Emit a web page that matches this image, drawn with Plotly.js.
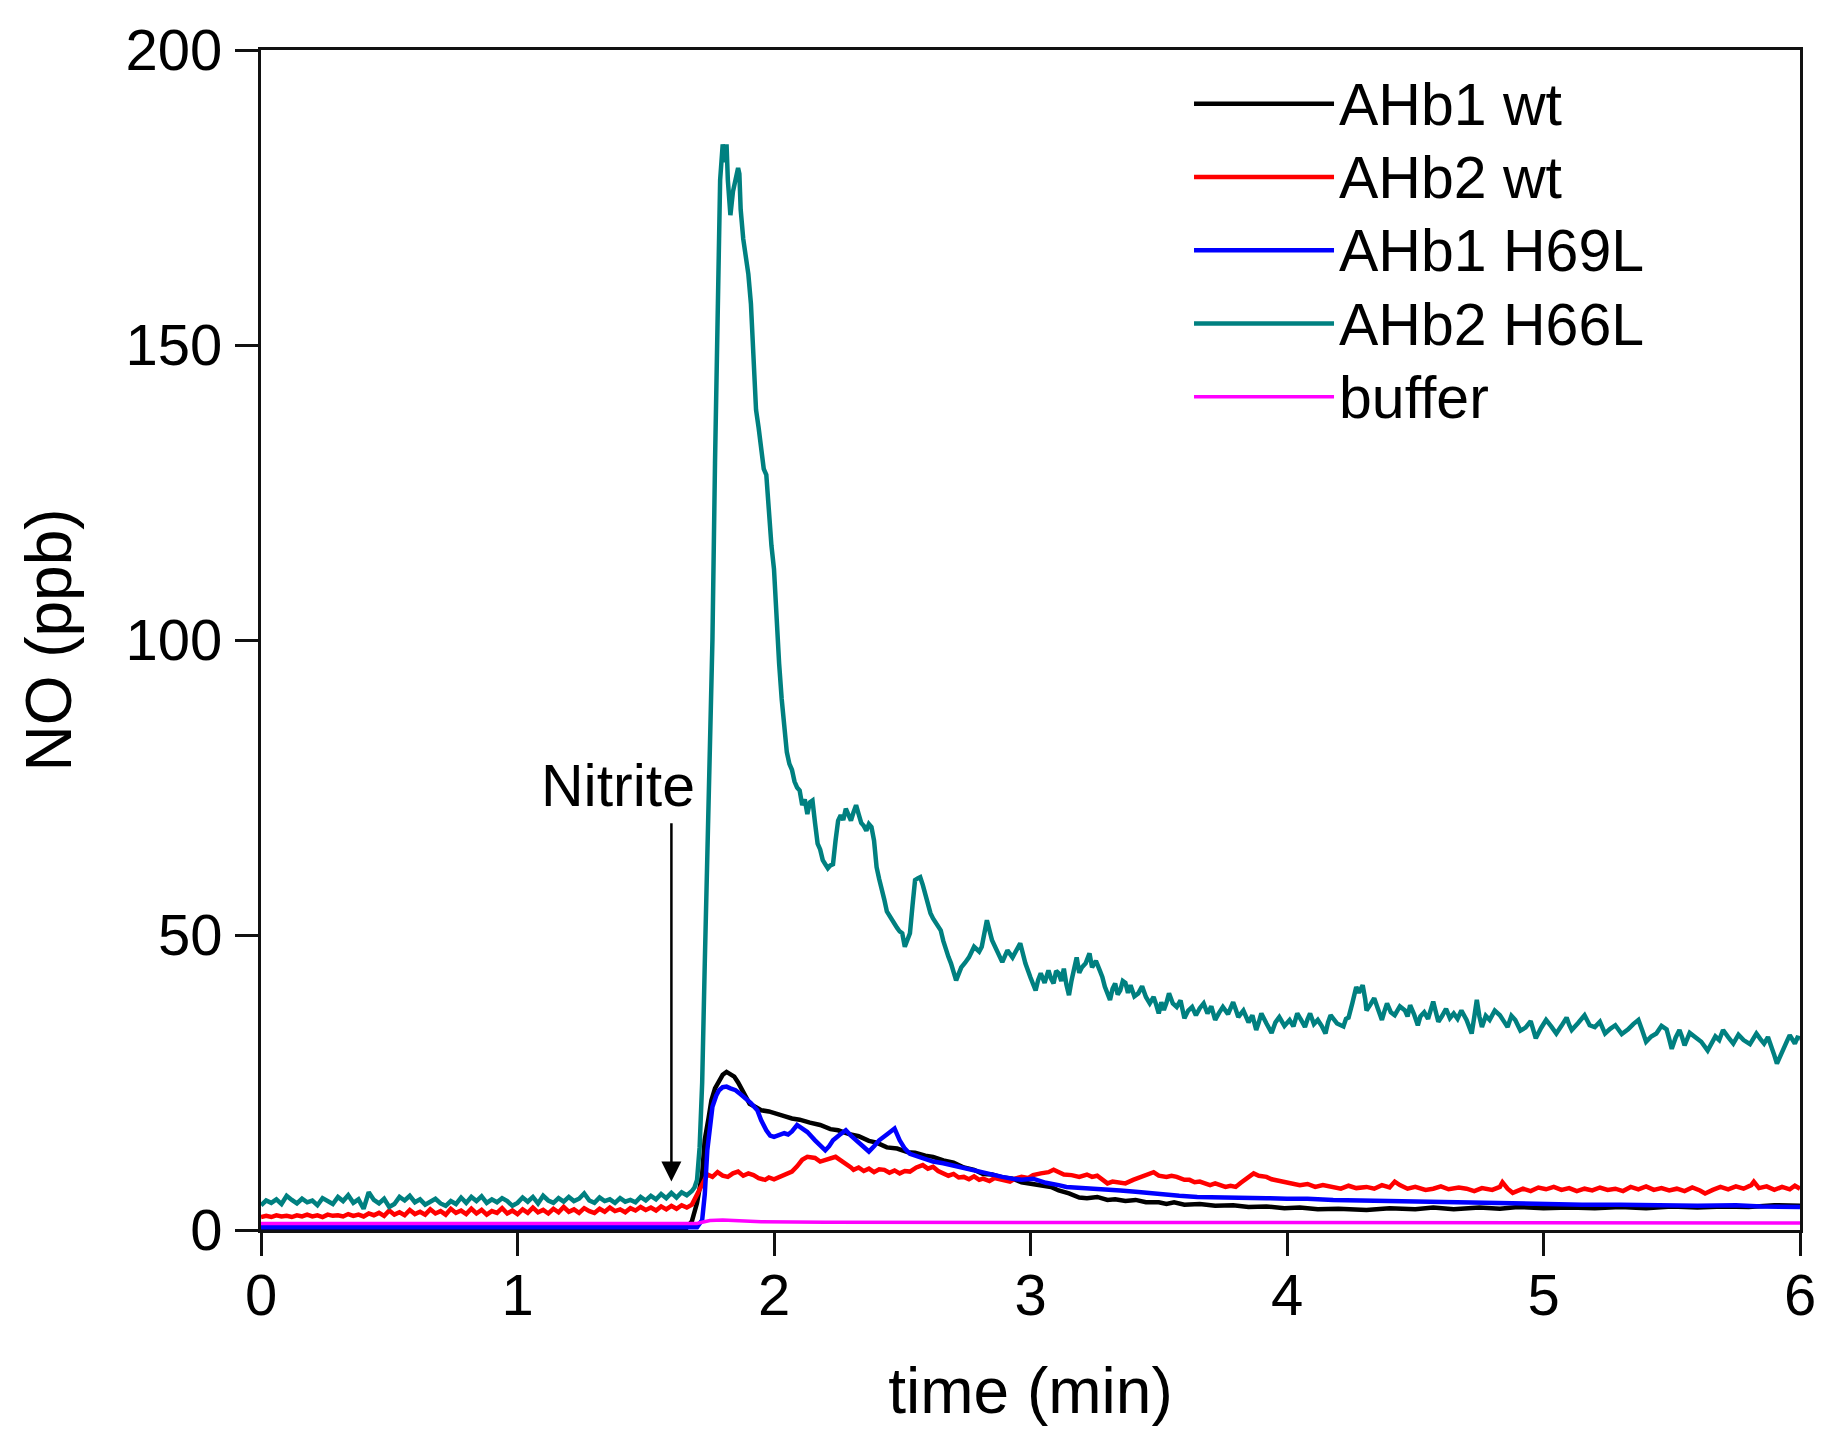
<!DOCTYPE html>
<html>
<head>
<meta charset="utf-8">
<script src="https://cdn.plot.ly/plotly-3.0.1.min.js"></script>
<style>
  html, body { margin: 0; padding: 0; background: #fff; }
  #chart { width: 1838px; height: 1443px; }
</style>
</head>
<body>
<div id="chart"></div>
<script>
// NO release traces, [time (min), NO (ppb)]
const ahb1Wt = [
  [0,0.3],[0.19,0.3],[0.6,0.3],[1.2,0.3],[1.66,0.4],[1.68,1.5],[1.7,4.6],[1.72,9.5],[1.73,15.3],
  [1.745,19],[1.756,22],[1.77,24],[1.786,25.4],[1.8,26.3],[1.815,26.8],[1.83,26.5],[1.845,26.0],
  [1.86,25.0],[1.875,23.7],[1.89,22.4],[1.905,21.4],[1.93,20.8],[1.95,20.3],[1.98,20.1],[2.01,19.6],
  [2.04,19.3],[2.07,18.9],[2.1,18.7],[2.14,18.2],[2.18,17.8],[2.22,17.1],[2.25,16.9],[2.29,16.3],
  [2.33,15.9],[2.37,15.1],[2.4,14.8],[2.44,14.0],[2.48,13.8],[2.52,13.2],[2.55,13.1],[2.59,12.6],
  [2.62,12.4],[2.66,11.8],[2.7,11.4],[2.74,10.6],[2.78,10.2],[2.815,9.5],[2.85,9.4],[2.89,8.9],
  [2.93,8.7],[2.965,8.1],[3.0,7.9],[3.04,7.5],[3.08,7.3],[3.11,6.7],[3.15,6.2],[3.19,5.5],[3.22,5.4],
  [3.26,5.6],[3.3,5.1],[3.33,5.2],[3.37,4.9],[3.41,5.1],[3.45,4.7],[3.5,4.7],[3.53,4.4],[3.56,4.7],
  [3.6,4.3],[3.66,4.4],[3.72,4.1],[3.79,4.2],[3.85,3.9],[3.92,4.0],[3.99,3.7],[4.05,3.8],[4.12,3.5],
  [4.2,3.6],[4.31,3.4],[4.4,3.7],[4.5,3.5],[4.57,3.8],[4.65,3.5],[4.75,3.8],[4.83,3.6],[4.9,3.9],
  [5.0,3.7],[5.1,3.8],[5.2,3.7],[5.3,3.9],[5.4,3.7],[5.5,4.0],[5.6,3.8],[5.7,4.0],[5.8,3.9],
  [5.9,4.2],[6.0,4.1]
];

const ahb2Wt = [
  [0,2.2],[0.02,2.4],[0.04,2.2],[0.06,2.5],[0.08,2.3],[0.1,2.4],[0.12,2.2],[0.14,2.5],[0.16,2.3],
  [0.18,2.6],[0.2,2.3],[0.22,2.5],[0.24,2.2],[0.26,2.6],[0.28,2.4],[0.3,2.5],[0.32,2.3],[0.34,2.7],
  [0.36,2.4],[0.38,2.6],[0.4,2.3],[0.42,2.8],[0.44,2.5],[0.46,2.9],[0.48,2.4],[0.5,3.3],[0.52,2.6],
  [0.54,3.0],[0.56,2.5],[0.58,3.4],[0.6,2.7],[0.62,3.1],[0.64,2.6],[0.66,3.5],[0.68,2.8],[0.7,3.2],
  [0.72,2.6],[0.74,3.6],[0.76,2.9],[0.78,3.3],[0.8,2.7],[0.82,3.6],[0.84,2.8],[0.86,3.4],[0.88,2.6],
  [0.9,3.2],[0.92,2.9],[0.94,3.7],[0.96,2.8],[0.98,3.3],[1.0,2.7],[1.02,3.5],[1.04,2.9],[1.06,3.8],
  [1.08,3.0],[1.1,3.4],[1.12,2.8],[1.14,3.6],[1.16,3.0],[1.18,3.9],[1.2,3.1],[1.22,3.5],[1.24,2.9],
  [1.26,3.7],[1.28,3.2],[1.3,2.9],[1.32,3.6],[1.34,3.1],[1.36,3.8],[1.38,3.2],[1.4,3.5],[1.42,3.0],
  [1.44,3.7],[1.46,3.3],[1.48,3.9],[1.5,3.4],[1.52,3.8],[1.54,3.3],[1.56,4.0],[1.58,3.5],[1.6,4.1],
  [1.62,3.6],[1.64,4.2],[1.66,3.8],[1.68,4.3],[1.7,6.0],[1.72,7.8],[1.74,9.4],[1.76,9.0],[1.78,9.8],
  [1.8,9.2],[1.82,9.0],[1.84,9.6],[1.86,9.9],[1.88,9.2],[1.9,9.6],[1.92,9.3],[1.94,8.8],[1.965,8.5],
  [1.98,8.9],[2.0,8.6],[2.025,9.0],[2.05,9.4],[2.07,9.9],[2.09,10.8],[2.11,11.9],[2.13,12.4],
  [2.16,12.2],[2.18,11.6],[2.2,11.9],[2.22,12.0],[2.24,12.4],[2.26,11.8],[2.28,11.3],[2.3,10.6],
  [2.31,10.2],[2.33,10.6],[2.35,10.0],[2.37,10.4],[2.39,9.8],[2.41,10.3],[2.43,10.2],[2.45,9.7],
  [2.47,10.1],[2.49,9.6],[2.51,10.0],[2.53,9.9],[2.555,10.6],[2.58,11.0],[2.6,10.4],[2.62,10.7],
  [2.64,10.0],[2.66,9.6],[2.68,9.2],[2.7,9.5],[2.72,8.9],[2.74,9.0],[2.76,8.6],[2.78,9.1],[2.8,8.5],
  [2.815,8.7],[2.84,8.3],[2.86,8.8],[2.89,8.5],[2.92,8.2],[2.94,8.7],[2.965,9.0],[2.99,8.8],
  [3.01,9.3],[3.04,9.6],[3.07,9.8],[3.09,10.2],[3.11,9.9],[3.13,9.4],[3.16,9.3],[3.19,9.0],
  [3.22,9.4],[3.24,9.0],[3.26,9.2],[3.28,8.6],[3.3,7.9],[3.32,8.2],[3.35,8.0],[3.37,7.9],[3.4,8.5],
  [3.42,8.8],[3.44,9.3],[3.46,9.6],[3.48,9.8],[3.5,9.2],[3.53,9.0],[3.55,9.2],[3.57,9.0],[3.6,8.5],
  [3.62,8.5],[3.64,8.1],[3.66,8.2],[3.68,7.9],[3.7,7.6],[3.72,7.9],[3.74,7.6],[3.76,7.3],[3.78,7.5],
  [3.8,7.3],[3.82,8.0],[3.84,8.6],[3.86,9.3],[3.87,9.6],[3.89,9.2],[3.92,9.0],[3.94,8.6],[3.96,8.4],
  [3.99,8.2],[4.02,7.9],[4.05,7.6],[4.08,7.8],[4.11,7.3],[4.14,7.6],[4.18,7.3],[4.21,7.0],[4.24,7.5],
  [4.27,7.1],[4.31,7.3],[4.34,7.0],[4.37,7.6],[4.4,7.2],[4.42,8.2],[4.44,7.6],[4.47,7.0],[4.5,7.3],
  [4.54,6.8],[4.57,7.0],[4.6,7.4],[4.63,6.9],[4.67,7.2],[4.7,7.0],[4.73,6.6],[4.76,7.1],[4.8,6.8],
  [4.83,7.3],[4.84,8.1],[4.86,7.0],[4.88,6.3],[4.92,7.0],[4.95,6.6],[4.98,7.2],[5.01,6.9],[5.04,7.3],
  [5.07,6.8],[5.1,7.1],[5.13,6.6],[5.16,7.0],[5.19,6.7],[5.22,7.2],[5.25,6.8],[5.28,7.0],[5.31,6.6],
  [5.34,7.3],[5.37,6.9],[5.4,7.4],[5.43,6.8],[5.46,7.1],[5.49,6.7],[5.52,7.0],[5.55,6.6],[5.58,7.2],
  [5.61,6.7],[5.63,6.2],[5.66,6.8],[5.69,7.3],[5.72,6.9],[5.75,7.4],[5.78,7.0],[5.81,7.6],[5.82,8.2],
  [5.84,7.1],[5.87,7.4],[5.9,6.8],[5.93,7.3],[5.96,6.9],[5.98,7.5],[6.0,7.0]
];

const ahb1H69L = [
  [0,0.45],[0.6,0.45],[1.2,0.45],[1.7,0.45],[1.72,1.7],[1.73,6],[1.74,13.5],[1.75,17.5],[1.76,20.9],
  [1.775,22.8],[1.786,23.7],[1.8,24.2],[1.815,24.3],[1.83,24.0],[1.85,23.7],[1.87,23.0],[1.89,22.3],
  [1.91,21.5],[1.935,20.3],[1.95,18.6],[1.97,16.9],[1.985,16.0],[2.0,15.8],[2.02,16.1],[2.04,16.4],
  [2.055,16.2],[2.07,16.7],[2.09,17.8],[2.1,17.5],[2.13,16.6],[2.16,15.2],[2.18,14.3],[2.2,13.5],
  [2.215,14.2],[2.23,15.2],[2.255,16.1],[2.28,16.9],[2.3,16.0],[2.32,15.2],[2.345,14.2],[2.37,13.3],
  [2.39,14.2],[2.41,15.2],[2.44,16.2],[2.47,17.2],[2.49,15.2],[2.51,13.8],[2.53,12.9],[2.56,12.4],
  [2.59,11.9],[2.62,11.6],[2.66,11.3],[2.7,10.9],[2.74,10.5],[2.78,10.0],[2.815,9.6],[2.85,9.3],
  [2.89,9.0],[2.93,8.7],[2.965,8.5],[3.01,8.7],[3.06,8.0],[3.11,7.6],[3.14,7.3],[3.2,7.1],[3.26,7.0],
  [3.3,6.8],[3.35,6.7],[3.41,6.5],[3.47,6.2],[3.53,5.9],[3.58,5.8],[3.65,5.6],[3.72,5.5],[3.8,5.4],
  [3.92,5.4],[4.0,5.3],[4.08,5.3],[4.18,5.1],[4.3,5.0],[4.44,4.8],[4.55,4.7],[4.7,4.6],[4.85,4.6],
  [5.0,4.4],[5.15,4.3],[5.3,4.3],[5.45,4.2],[5.6,4.1],[5.75,4.2],[5.85,4.0],[6.0,3.9]
];

const ahb2H66L = [
  [0,4.2],[0.02,5.0],[0.04,4.6],[0.06,5.2],[0.08,4.4],[0.1,5.8],[0.12,5.1],[0.14,4.5],[0.16,5.3],
  [0.18,4.7],[0.2,5.0],[0.22,4.2],[0.24,5.4],[0.26,4.8],[0.28,4.4],[0.3,5.6],[0.32,4.9],[0.34,5.9],
  [0.36,4.6],[0.38,5.2],[0.4,3.6],[0.42,6.4],[0.44,5.1],[0.46,4.5],[0.48,5.3],[0.5,3.9],[0.52,4.4],
  [0.54,5.6],[0.56,5.0],[0.58,5.8],[0.6,4.7],[0.62,5.2],[0.64,4.3],[0.66,4.8],[0.68,5.3],[0.7,4.5],
  [0.72,4.1],[0.74,4.9],[0.76,4.4],[0.78,5.5],[0.8,4.6],[0.82,5.6],[0.84,4.9],[0.86,5.7],[0.88,4.6],
  [0.9,5.2],[0.92,4.7],[0.94,5.4],[0.96,4.9],[0.98,4.1],[1.0,4.6],[1.02,5.5],[1.04,4.8],[1.06,5.6],
  [1.08,4.5],[1.1,5.8],[1.12,5.0],[1.14,4.6],[1.16,5.4],[1.18,4.8],[1.2,5.6],[1.22,4.9],[1.24,5.3],
  [1.26,6.2],[1.28,5.0],[1.3,4.6],[1.32,5.5],[1.34,4.9],[1.36,5.2],[1.38,4.6],[1.4,5.4],[1.42,4.8],
  [1.44,5.1],[1.46,4.7],[1.48,5.6],[1.5,5.0],[1.52,5.8],[1.54,5.2],[1.56,6.1],[1.58,5.4],[1.6,6.3],
  [1.62,5.5],[1.64,6.4],[1.66,5.9],[1.68,6.6],[1.69,7.2],[1.7,8.5],[1.71,14],[1.72,25],[1.73,45],
  [1.74,62],[1.75,78],[1.76,100],[1.77,130],[1.78,160],[1.79,178],[1.8,184],[1.81,181],[1.815,184],
  [1.82,178],[1.83,172],[1.84,176],[1.85,178],[1.86,180],[1.865,179],[1.87,173],[1.88,168],
  [1.89,165],[1.9,162],[1.91,157],[1.92,148],[1.93,139],[1.94,136],[1.95,132],[1.96,129],[1.97,128],
  [1.98,121],[1.99,116],[2.0,112],[2.01,102],[2.02,96],[2.03,90],[2.04,85],[2.05,81],[2.06,79],
  [2.07,78],[2.08,76],[2.09,75],[2.1,74.5],[2.11,72],[2.12,73],[2.13,70.5],[2.14,72.5],[2.15,72.8],
  [2.16,69],[2.17,65.5],[2.18,64.5],[2.19,62.7],[2.2,62],[2.21,61.3],[2.22,61.8],[2.23,62],[2.24,66],
  [2.25,69.4],[2.26,70.3],[2.27,69.5],[2.28,71.4],[2.29,70.2],[2.3,69.4],[2.31,70.8],[2.32,72],
  [2.33,70.5],[2.34,69],[2.35,68.5],[2.36,67.7],[2.37,68.8],[2.38,68.3],[2.39,66],[2.4,61.5],
  [2.41,59.5],[2.42,58],[2.43,56],[2.44,54],[2.45,53.2],[2.46,52.8],[2.47,52],[2.48,51.2],[2.49,50.6],
  [2.5,50.3],[2.51,48],[2.52,49],[2.53,50.3],[2.54,55],[2.55,59.3],[2.56,59.6],[2.57,59.8],[2.58,58.5],
  [2.59,57],[2.6,55],[2.61,53.7],[2.62,52.8],[2.63,52],[2.64,51.4],[2.65,50.8],[2.66,49],[2.67,47.4],
  [2.68,46.3],[2.69,45.2],[2.7,43.5],[2.71,42.3],[2.72,43.4],[2.73,44.5],[2.745,45.3],[2.76,46.2],
  [2.78,48],[2.8,47.2],[2.81,48],[2.83,52.5],[2.85,49.1],[2.87,47.4],[2.89,45.4],[2.91,47.4],
  [2.93,46.2],[2.96,48.6],[2.98,45.2],
  [3.0,42.8],[3.01,41.5],[3.02,40.6],[3.03,42.4],[3.04,43.5],[3.055,41.9],[3.07,44],[3.08,42.6],
  [3.09,41.8],[3.1,43.9],[3.11,43.5],[3.12,42.2],[3.13,44.3],[3.14,41.6],[3.15,39.8],[3.16,42.3],
  [3.17,44.1],[3.18,46.2],[3.19,43.6],[3.2,44.5],[3.215,45.2],[3.23,46.9],[3.24,44.5],[3.255,45.6],
  [3.27,44],[3.28,42.9],[3.29,41.2],[3.3,40.3],[3.31,39],[3.32,40.9],[3.33,41.8],[3.34,39.9],
  [3.35,40.6],[3.36,42.2],[3.37,41.9],[3.38,40.2],[3.39,41.5],[3.405,39.6],[3.42,40.1],[3.435,41.3],
  [3.45,39.5],[3.465,38.4],[3.48,39.5],[3.49,38.2],[3.5,36.7],[3.51,38.6],[3.52,37.3],[3.53,38.5],
  [3.54,40.1],[3.555,38.4],[3.57,37.8],[3.585,38.9],[3.6,35.9],[3.615,37.2],[3.63,37.8],[3.645,36.4],
  [3.66,37.6],[3.675,38.4],[3.69,36.7],[3.705,37.9],[3.72,35.6],[3.735,36.8],[3.75,37.8],[3.77,36.6],
  [3.79,38.6],[3.8,37.4],[3.81,36.1],[3.83,37.2],[3.85,35.2],[3.865,36.4],[3.88,33.9],[3.89,35.2],
  [3.9,36.7],[3.92,35.0],[3.94,33.4],[3.955,35.2],[3.97,36.1],[3.99,34.6],[4.01,35.6],[4.025,34.5],
  [4.04,36.7],[4.055,35.6],[4.07,34.4],[4.08,35.7],[4.09,36.7],[4.105,34.9],[4.12,35.6],[4.135,34.6],
  [4.15,33.3],[4.16,35.2],[4.17,36.4],[4.195,35.0],[4.22,34.5],[4.23,35.8],[4.24,36],[4.255,38.5],
  [4.27,41.2],[4.28,40.2],[4.295,41.5],[4.305,39.1],[4.31,37.2],[4.325,38.2],[4.34,39.3],[4.355,37.4],
  [4.37,35.6],[4.38,37.1],[4.39,38.4],[4.405,36.9],[4.42,36.4],[4.44,37.9],[4.46,37.2],[4.47,36.2],
  [4.48,38.1],[4.495,36.6],[4.51,34.7],[4.52,36.2],[4.535,36.9],[4.55,35.8],[4.57,38.7],[4.58,37.0],
  [4.59,35.3],[4.605,36.3],[4.62,37.5],[4.635,35.9],[4.65,36.7],[4.665,35.8],[4.68,37.2],[4.7,35.6],
  [4.72,33.3],[4.73,36.1],[4.74,39],[4.75,36.2],[4.76,34.4],[4.775,36.3],[4.79,35.6],[4.81,37.2],
  [4.83,36.4],[4.845,35.4],[4.86,34.4],[4.875,36.3],[4.89,35.6],[4.91,33.8],[4.93,34.3],[4.95,35.4],
  [4.97,32.5],[4.99,34.2],[5.01,35.6],[5.03,34.5],[5.05,33.3],[5.07,34.6],[5.09,36],[5.1,34.8],
  [5.11,33.9],[5.135,35.1],[5.16,36.4],[5.18,34.7],[5.2,34.4],[5.22,35.3],[5.24,33.3],[5.26,34.1],
  [5.28,34.7],[5.305,33.2],[5.33,34],[5.35,34.9],[5.37,35.6],[5.385,33.8],[5.4,31.9],[5.42,32.8],
  [5.44,33.3],[5.46,34.6],[5.48,34],[5.49,32.4],[5.5,30.7],[5.515,32.6],[5.53,33.9],[5.54,32.7],
  [5.55,31.3],[5.57,33.4],[5.59,32.8],[5.615,31.9],[5.64,30.4],[5.655,31.8],[5.67,32.8],[5.685,32.2],
  [5.7,33.9],[5.72,32.7],[5.74,31.6],[5.76,33.1],[5.78,32.2],[5.805,31.5],[5.83,33.3],[5.845,32.4],
  [5.86,31.6],[5.875,32.7],[5.89,31],[5.9,29.6],[5.91,28.2],[5.925,29.8],[5.94,31],[5.95,32.1],
  [5.96,33],[5.97,32.4],[5.98,31.6],[5.99,32.6],[6.0,32.5]
];

const buffer = [
  [0,1.1],[0.8,1.1],[1.7,1.1],[1.72,1.3],[1.75,1.6],[1.8,1.7],[1.85,1.6],[1.95,1.4],[2.2,1.3],
  [3.0,1.25],[4.0,1.2],[5.0,1.2],[6.0,1.2]
];

const seriesNames = ['AHb1 wt', 'AHb2 wt', 'AHb1 H69L', 'AHb2 H66L', 'buffer'];
const seriesData = [ahb1Wt, ahb2Wt, ahb1H69L, ahb2H66L, buffer];
const seriesColors = ['#000000', '#ff0000', '#0000ff', '#008080', '#ff00ff'];
const seriesWidths = [4.5, 4.5, 4.5, 4.5, 3.5];

const xTicks = [0, 1, 2, 3, 4, 5, 6];
const yTicks = [0, 50, 100, 150, 200];

const FONT = 'Arial, "Liberation Sans", sans-serif';

// legend rows are spaced by the legend font size, the label glyphs are drawn a bit larger
const traces = seriesData.map((pts, i) => ({
  x: pts.map(p => p[0]),
  y: pts.map(p => p[1]),
  type: 'scatter',
  mode: 'lines',
  name: '<span style="font-size:59px">' + seriesNames[i] + '</span>',
  line: { color: seriesColors[i], width: seriesWidths[i] }
}));

const axisCommon = {
  showline: true,
  linewidth: 3,
  linecolor: '#111',
  mirror: true,
  ticks: 'outside',
  ticklen: 23,
  tickwidth: 3,
  tickcolor: '#111',
  showgrid: false,
  zeroline: false,
  tickfont: { family: FONT, size: 58, color: '#000' }
};

const layout = {
  width: 1838,
  height: 1443,
  margin: { l: 261, r: 38, t: 50, b: 213 },
  paper_bgcolor: '#fff',
  plot_bgcolor: '#fff',
  font: { family: FONT, color: '#000' },
  xaxis: Object.assign({}, axisCommon, {
    range: [0, 6],
    tickvals: xTicks,
    ticklabelstandoff: -11,
    title: { text: 'time (min)', font: { family: FONT, size: 64 }, standoff: 43 }
  }),
  yaxis: Object.assign({}, axisCommon, {
    range: [0, 200],
    tickvals: yTicks,
    ticklabelstandoff: 1,
    title: { text: 'NO (ppb)', font: { family: FONT, size: 64 }, standoff: 34 }
  }),
  legend: {
    x: 0.603, y: 0.9896, xanchor: 'left', yanchor: 'top',
    bgcolor: 'rgba(0,0,0,0)',
    font: { family: FONT, size: 54 },
    itemwidth: 140,
    tracegroupgap: 0
  },
  showlegend: true,
  annotations: [
    {
      x: 1.39, y: 75.2, xref: 'x', yref: 'y',
      text: 'Nitrite', showarrow: false,
      font: { family: FONT, size: 59 },
      xanchor: 'center', yanchor: 'middle'
    },
    {
      x: 1.6, y: 8.2, xref: 'x', yref: 'y',
      ax: 1.6, ay: 69.2, axref: 'x', ayref: 'y',
      text: '', showarrow: true,
      arrowhead: 2, arrowsize: 1.6, arrowwidth: 2.5, arrowcolor: '#000'
    }
  ]
};

Plotly.newPlot('chart', traces, layout, { staticPlot: true });
</script>
</body>
</html>
